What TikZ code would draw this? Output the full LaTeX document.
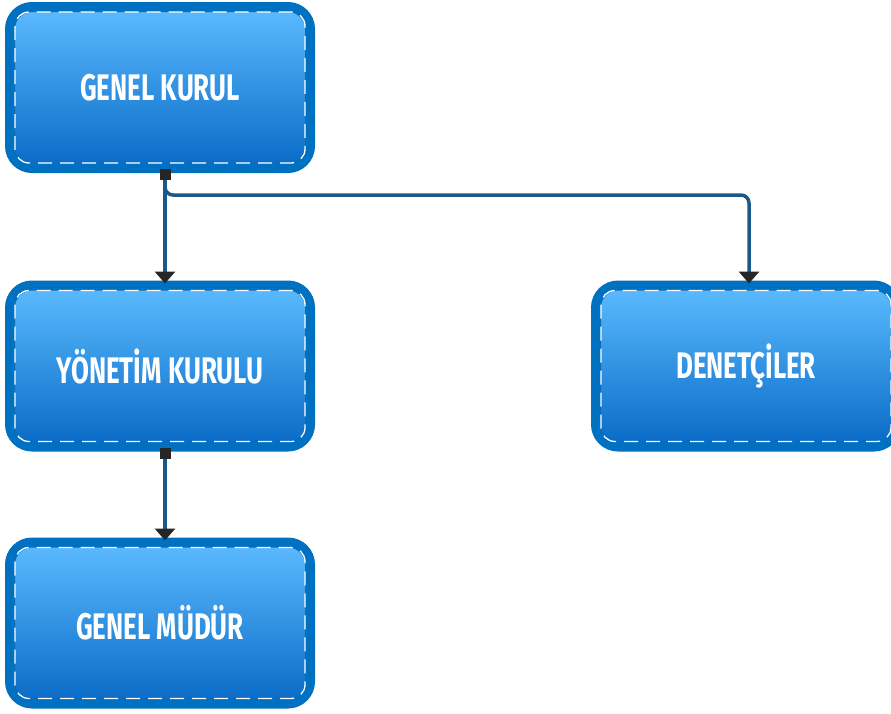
\documentclass[tikz,border=0pt]{standalone}
\usepackage{fontspec}
\usetikzlibrary{arrows.meta, positioning}
\newfontfamily\boxfont{Fira Sans}[FakeStretch=0.7]

\definecolor{boxedge}{RGB}{0,112,192}
\definecolor{boxtop}{RGB}{92,187,255}
\definecolor{boxbottom}{RGB}{8,106,198}
\definecolor{linkblue}{RGB}{27,88,138}
\definecolor{tipdark}{RGB}{38,38,38}

\begin{document}
\begin{tikzpicture} [x=1pt, y=-1pt,
                orgbox/.style = {draw=boxedge, line width=10pt,
                    rounded corners=22pt,
                    minimum width=300pt, minimum height=161pt,
                    top color=boxtop, bottom color=boxbottom,
                    text=white, font=\boxfont\bfseries\fontsize{37}{42}\selectfont},
                innerdash/.style = {draw=white, line width=1.3pt,
                    dash pattern=on 14pt off 8pt, rounded corners=14pt},
                link/.style = {draw=linkblue, line width=3.5pt, rounded corners=8pt}]

            \useasboundingbox (0,0) rectangle (891,713);

            % Genel kurul
            \node (genel) [orgbox] at (160,87.5) {GENEL KURUL};

            % Yonetim kurulu
            \node (yonetim) [orgbox] at (160,366) {YÖNETİM KURULU};

            % Denetciler
            \node (denetci) [orgbox] at (746,366) {DENETÇİLER};

            % Genel mudur
            \node (mudur) [orgbox] at (160,623) {GENEL MÜDÜR};

            % dashed inner frames
            \foreach \n in {genel, yonetim, denetci, mudur}
                \draw [innerdash] ([shift={(10,10)}]\n.north west)
                    rectangle ([shift={(-10,-10)}]\n.south east);

            % link points
            \coordinate (gkout) at ([shift={(5,-4)}]genel.south);
            \coordinate (ykout) at ([shift={(5,-4)}]yonetim.south);

            % Arrows
            \draw [link, -{Triangle[width=20pt, length=12pt, color=tipdark]}]
                (gkout) -- ++(0,26) -| ([shift={(3,3)}]denetci.north);
            \draw [link, {Square[width=11pt, length=11pt, color=tipdark]}-{Triangle[width=20pt, length=12pt, color=tipdark]}]
                (gkout) -- ([shift={(5,3)}]yonetim.north);
            \draw [link, {Square[width=11pt, length=11pt, color=tipdark]}-{Triangle[width=20pt, length=12pt, color=tipdark]}]
                (ykout) -- ([shift={(5,3)}]mudur.north);
\end{tikzpicture}
\end{document}
